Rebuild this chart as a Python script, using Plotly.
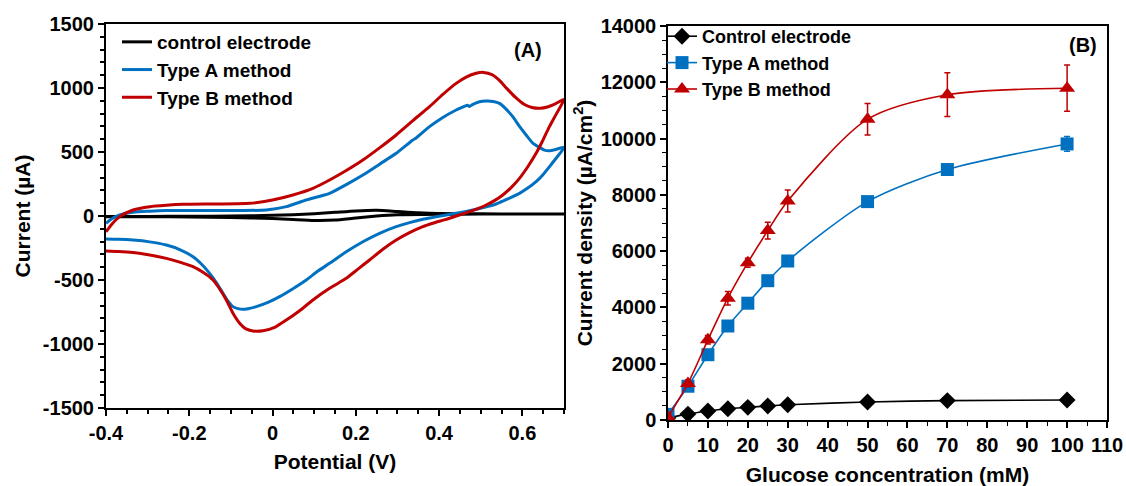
import plotly.graph_objects as go

# ---------------- Panel A: cyclic voltammograms ----------------
# Each curve: forward sweep (-0.4 -> 0.7 V) followed by reverse sweep (0.7 -> -0.4 V)
control_v = [-0.40, -0.30, -0.20, -0.10, 0.00, 0.05, 0.10, 0.15, 0.20, 0.25, 0.30, 0.35, 0.40, 0.50, 0.60, 0.70,
             0.60, 0.50, 0.40, 0.30, 0.25, 0.20, 0.15, 0.10, 0.05, 0.00, -0.10, -0.20, -0.30, -0.40]
control_i = [-5, -3, -2, 0, 5, 10, 18, 29, 40, 45, 35, 25, 20, 17, 16, 16,
             16, 15, 14, 10, 0, -15, -32, -35, -28, -20, -12, -8, -5, -3]

type_a_v = [-0.400, -0.385, -0.367, -0.335, -0.295, -0.255, -0.135, -0.015, 0.033, 0.081, 0.137, 0.177, 0.217,
            0.257, 0.297, 0.337, 0.345, 0.377, 0.409, 0.441, 0.462, 0.468, 0.473, 0.480, 0.497, 0.513, 0.530,
            0.545, 0.561, 0.577, 0.593, 0.609, 0.625, 0.641, 0.653, 0.665, 0.680, 0.700,
            0.682, 0.665, 0.649, 0.633, 0.613, 0.593, 0.565, 0.537, 0.509, 0.481, 0.449, 0.417, 0.389, 0.361,
            0.329, 0.297, 0.257, 0.217, 0.177, 0.137, 0.109, 0.081, 0.049, 0.017, -0.011, -0.039, -0.059,
            -0.071, -0.083, -0.095, -0.107, -0.119, -0.135, -0.151, -0.171, -0.191, -0.223, -0.255, -0.295,
            -0.335, -0.370, -0.400]
type_a_i = [-57, -20, 8, 29, 37, 42, 42, 47, 73, 125, 177, 245, 320,
            405, 490, 594, 610, 698, 770, 828, 858, 866, 856, 870, 892, 898, 895,
            880, 835, 776, 700, 633, 570, 536, 515, 510, 520, 536,
            455, 385, 320, 268, 218, 177, 133, 94, 68, 47, 26, 8, -9, -26,
            -52, -83, -135, -201, -280, -370, -430, -500, -568, -630, -675, -708, -724,
            -729, -724, -708, -665, -604, -520, -448, -375, -318, -262, -227, -202,
            -188, -182, -180]

type_b_v = [-0.400, -0.385, -0.367, -0.335, -0.295, -0.255, -0.215, -0.135, -0.055, 0.000, 0.049, 0.097, 0.137,
            0.177, 0.217, 0.257, 0.297, 0.337, 0.377, 0.409, 0.441, 0.465, 0.489, 0.507, 0.527, 0.545, 0.563,
            0.583, 0.603, 0.623, 0.643, 0.660, 0.680, 0.700,
            0.682, 0.665, 0.649, 0.633, 0.613, 0.593, 0.573, 0.553, 0.533, 0.513, 0.493, 0.473, 0.445, 0.417,
            0.389, 0.361, 0.329, 0.297, 0.265, 0.233, 0.205, 0.177, 0.137, 0.097, 0.065, 0.033, 0.005, -0.023,
            -0.047, -0.065, -0.079, -0.095, -0.111, -0.127, -0.143, -0.167, -0.191, -0.223, -0.255, -0.295,
            -0.335, -0.370, -0.400]
type_b_i = [-123, -60, -5, 47, 73, 84, 91, 94, 99, 125, 164, 216, 281,
            355, 437, 532, 633, 745, 854, 950, 1036, 1085, 1115, 1122, 1105, 1060, 995,
            928, 875, 848, 842, 852, 878, 911,
            800, 698, 590, 490, 385, 294, 222, 164, 120, 86, 58, 34, 4, -26,
            -53, -83, -130, -188, -260, -344, -415, -487, -565, -656, -740, -813, -870, -896,
            -898, -880, -838, -760, -656, -570, -500, -440, -396, -360, -331, -305,
            -286, -277, -273]

potential_ticks = [-0.4, -0.2, 0.0, 0.2, 0.4, 0.6]
potential_ticktext = ["-0.4", "-0.2", "0", "0.2", "0.4", "0.6"]
current_ticks = [-1500, -1000, -500, 0, 500, 1000, 1500]
current_ticktext = ["-1500", "-1000", "-500", "0", "500", "1000", "1500"]

# ---------------- Panel B: calibration curves ----------------
glucose_mM = [0, 5, 10, 15, 20, 25, 30, 50, 70, 100]
control_density = [80, 210, 320, 400, 450, 500, 540, 640, 690, 710]
type_a_density = [200, 1200, 2320, 3340, 4150, 4950, 5650, 7760, 8900, 9810]
type_a_err = [60, 80, 100, 120, 100, 100, 100, 120, 100, 260]
type_b_density = [100, 1300, 2850, 4330, 5590, 6730, 7780, 10690, 11560, 11790]
type_b_err = [50, 120, 150, 240, 160, 300, 390, 560, 780, 820]

BLACK = "#000000"
BLUE = "#0070C0"
RED = "#C00000"
FONT = "Liberation Sans"

fig = go.Figure()

cv_specs = [("control electrode", control_v, control_i, BLACK),
            ("Type A method", type_a_v, type_a_i, BLUE),
            ("Type B method", type_b_v, type_b_i, RED)]
for name, v, i, color in cv_specs:
    fig.add_trace(go.Scatter(
        x=v, y=i, mode="lines", name=name,
        line=dict(color=color, width=3, shape="spline", smoothing=0.6),
        xaxis="x", yaxis="y", legend="legend"))

cal_specs = [("Control electrode", control_density, None, BLACK, "diamond", 13),
             ("Type A method", type_a_density, type_a_err, BLUE, "square", 13),
             ("Type B method", type_b_density, type_b_err, RED, "triangle-up", 14)]
for name, vals, err, color, symbol, size in cal_specs:
    fig.add_trace(go.Scatter(
        x=glucose_mM, y=vals, mode="lines+markers", name=name,
        line=dict(color=color, width=1.6, shape="spline", smoothing=0.8),
        marker=dict(color=color, symbol=symbol, size=size),
        error_y=(dict(type="data", array=err, color=color, thickness=1.5, width=3)
                 if err is not None else None),
        xaxis="x2", yaxis="y2", legend="legend2"))

W, H = 1126, 486


def px_x(p):
    return p / W


def px_y(p):
    return 1 - p / H


tick_font = dict(family=FONT, size=20, color="black", weight="bold")
title_font = dict(family=FONT, size=21, color="black", weight="bold")
legend_font = dict(family=FONT, size=19, color="black", weight="bold")
axis_common = dict(showline=True, linecolor="black", mirror=True, showgrid=False,
                   zeroline=False, ticks="outside", tickcolor="black", ticklen=6,
                   tickfont=tick_font, automargin=False)

fig.update_layout(
    template="none",
    width=W, height=H,
    margin=dict(l=0, r=0, t=0, b=0, autoexpand=False),
    paper_bgcolor="white", plot_bgcolor="white",
    font=dict(family=FONT, color="black"),
    xaxis=dict(domain=[px_x(106), px_x(564)], range=[-0.4, 0.7],
               tickvals=potential_ticks, ticktext=potential_ticktext,
               linewidth=2, tickwidth=2,
               minor=dict(dtick=0.05, ticks="outside", ticklen=4, tickcolor="black", tickwidth=1.5),
               title=dict(text="Potential (V)", font=title_font, standoff=11),
               anchor="y", **axis_common),
    yaxis=dict(domain=[px_y(408), px_y(24)], range=[-1500, 1500],
               tickvals=current_ticks, ticktext=current_ticktext, linewidth=2, tickwidth=2,
               minor=dict(dtick=100, ticks="outside", ticklen=4, tickcolor="black", tickwidth=1.5),
               title=dict(text="Current (µA)", font=title_font, standoff=6),
               anchor="x", **axis_common),
    xaxis2=dict(domain=[px_x(668), px_x(1107)], range=[0, 110], dtick=10, tickformat="d",
                linewidth=1.5, tickwidth=1.5,
                minor=dict(dtick=5, ticks="outside", ticklen=4, tickcolor="black", tickwidth=1.2),
                title=dict(text="Glucose concentration (mM)", font=title_font, standoff=16),
                anchor="y2", **axis_common),
    yaxis2=dict(domain=[px_y(420), px_y(26)], range=[0, 14000], dtick=2000, tickformat="d",
                linewidth=1.5, tickwidth=1.5,
                minor=dict(dtick=500, ticks="outside", ticklen=4, tickcolor="black", tickwidth=1.2),
                title=dict(text="Current density (µA/cm<sup>2</sup>)", font=title_font, standoff=2),
                anchor="x2", **axis_common),
    legend=dict(x=px_x(117), y=px_y(23), xanchor="left", yanchor="top",
                bgcolor="rgba(0,0,0,0)", borderwidth=0, itemwidth=30, tracegroupgap=0,
                font=legend_font),
    legend2=dict(x=px_x(662), y=px_y(18), xanchor="left", yanchor="top",
                 bgcolor="rgba(0,0,0,0)", borderwidth=0, itemwidth=30, tracegroupgap=0,
                 font=dict(family=FONT, size=18, color="black", weight="bold")),
    annotations=[
        dict(text="(A)", x=px_x(528), y=px_y(50), xref="paper", yref="paper",
             xanchor="center", yanchor="middle", showarrow=False,
             font=dict(family=FONT, size=20, color="black", weight="bold")),
        dict(text="(B)", x=px_x(1083), y=px_y(45), xref="paper", yref="paper",
             xanchor="center", yanchor="middle", showarrow=False,
             font=dict(family=FONT, size=20, color="black", weight="bold")),
    ],
)

fig.write_html("out.html")
